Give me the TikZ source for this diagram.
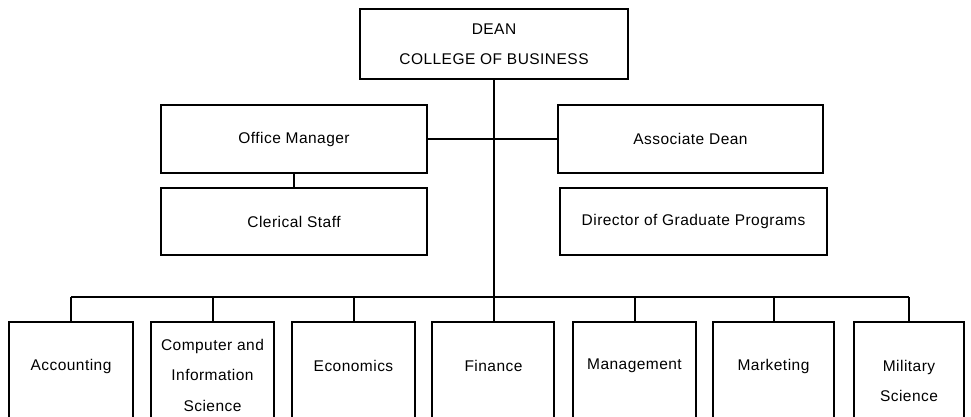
\documentclass[tikz,border=0pt]{standalone}
\usepackage{fontspec}
\setmainfont[LetterSpace=3]{Liberation Sans}
\begin{document}
\begin{tikzpicture}[x=1pt,y=-1pt,
  box/.style={draw, line width=2pt, inner sep=0pt, align=center,
    font=\fontsize{15.5}{30.5}\selectfont},
  link/.style={line width=2pt}]
\useasboundingbox (0,0) rectangle (971,416);
\clip (0,0) rectangle (971,416);
\fill[white] (0,0) rectangle (971,416);
% top
\node[box, minimum width=268pt, minimum height=70pt] (dean) at (494,44) {DEAN\\COLLEGE OF BUSINESS};
\node[box, minimum width=266pt, minimum height=68pt] (om) at (294,139) {Office Manager};
\node[box, minimum width=266pt, minimum height=67pt] (cs) at (294,221.5) {Clerical Staff};
\node[box, minimum width=265pt, minimum height=68pt] (ad) at (690.5,139) {Associate Dean};
\node[box, minimum width=267pt, minimum height=67pt] (dg) at (693.5,221.5) {Director of Graduate Programs};
% departments (boxes extend below the page)
\foreach \n/\l/\r in {acc/9/133, cis/151/274, eco/292/415, fin/432/554, mgt/573/696, mkt/713/834, mil/854/964}{
  \draw[line width=2pt] (\l,440) -- (\l,322) -- (\r,322) -- (\r,440);
}
\tikzset{dept/.style={inner sep=0pt, align=center, font=\fontsize{15.5}{30.5}\selectfont, anchor=north}}
\node[dept, minimum width=124pt, minimum height=118pt] (acc) at (71,322) {};
\node[dept, minimum width=123pt, minimum height=118pt] (cis) at (212.5,322) {};
\node[dept, minimum width=123pt, minimum height=118pt] (eco) at (353.5,322) {};
\node[dept, minimum width=122pt, minimum height=118pt] (fin) at (493.5,322) {};
\node[dept, minimum width=123pt, minimum height=118pt] (mgt) at (634.5,322) {};
\node[dept, minimum width=121pt, minimum height=118pt] (mkt) at (773.5,322) {};
\node[dept, minimum width=110pt, minimum height=118pt] (mil) at (909,322) {};
\tikzset{lab/.style={inner sep=0pt, align=center, font=\fontsize{15.5}{30.5}\selectfont}}
\node[lab] (tacc) at (71,366) {Accounting};
\node[lab] (tcis) at (212.5,375) {Computer and\\Information\\Science};
\node[lab] (teco) at (353.5,366) {Economics};
\node[lab] (tfin) at (493.5,366) {Finance};
\node[lab] (tmgt) at (634.5,366) {Management};
\node[lab] (tmkt) at (773.5,366) {Marketing};
\node[lab] (tmil) at (909,381) {Military\\Science};
% connectors
\coordinate (bus) at (494,297);
\draw[link] (dean.south) -- (bus);
\draw[link] (om.east) -- (ad.west);
\draw[link] (om.south) -- (cs.north);
\draw[link] (acc.north |- bus) -- (mil.north |- bus);
\foreach \d in {acc,cis,eco,fin,mgt,mkt,mil}{
  \draw[link] (\d.north |- bus) -- (\d.north);
}
\end{tikzpicture}
\end{document}
